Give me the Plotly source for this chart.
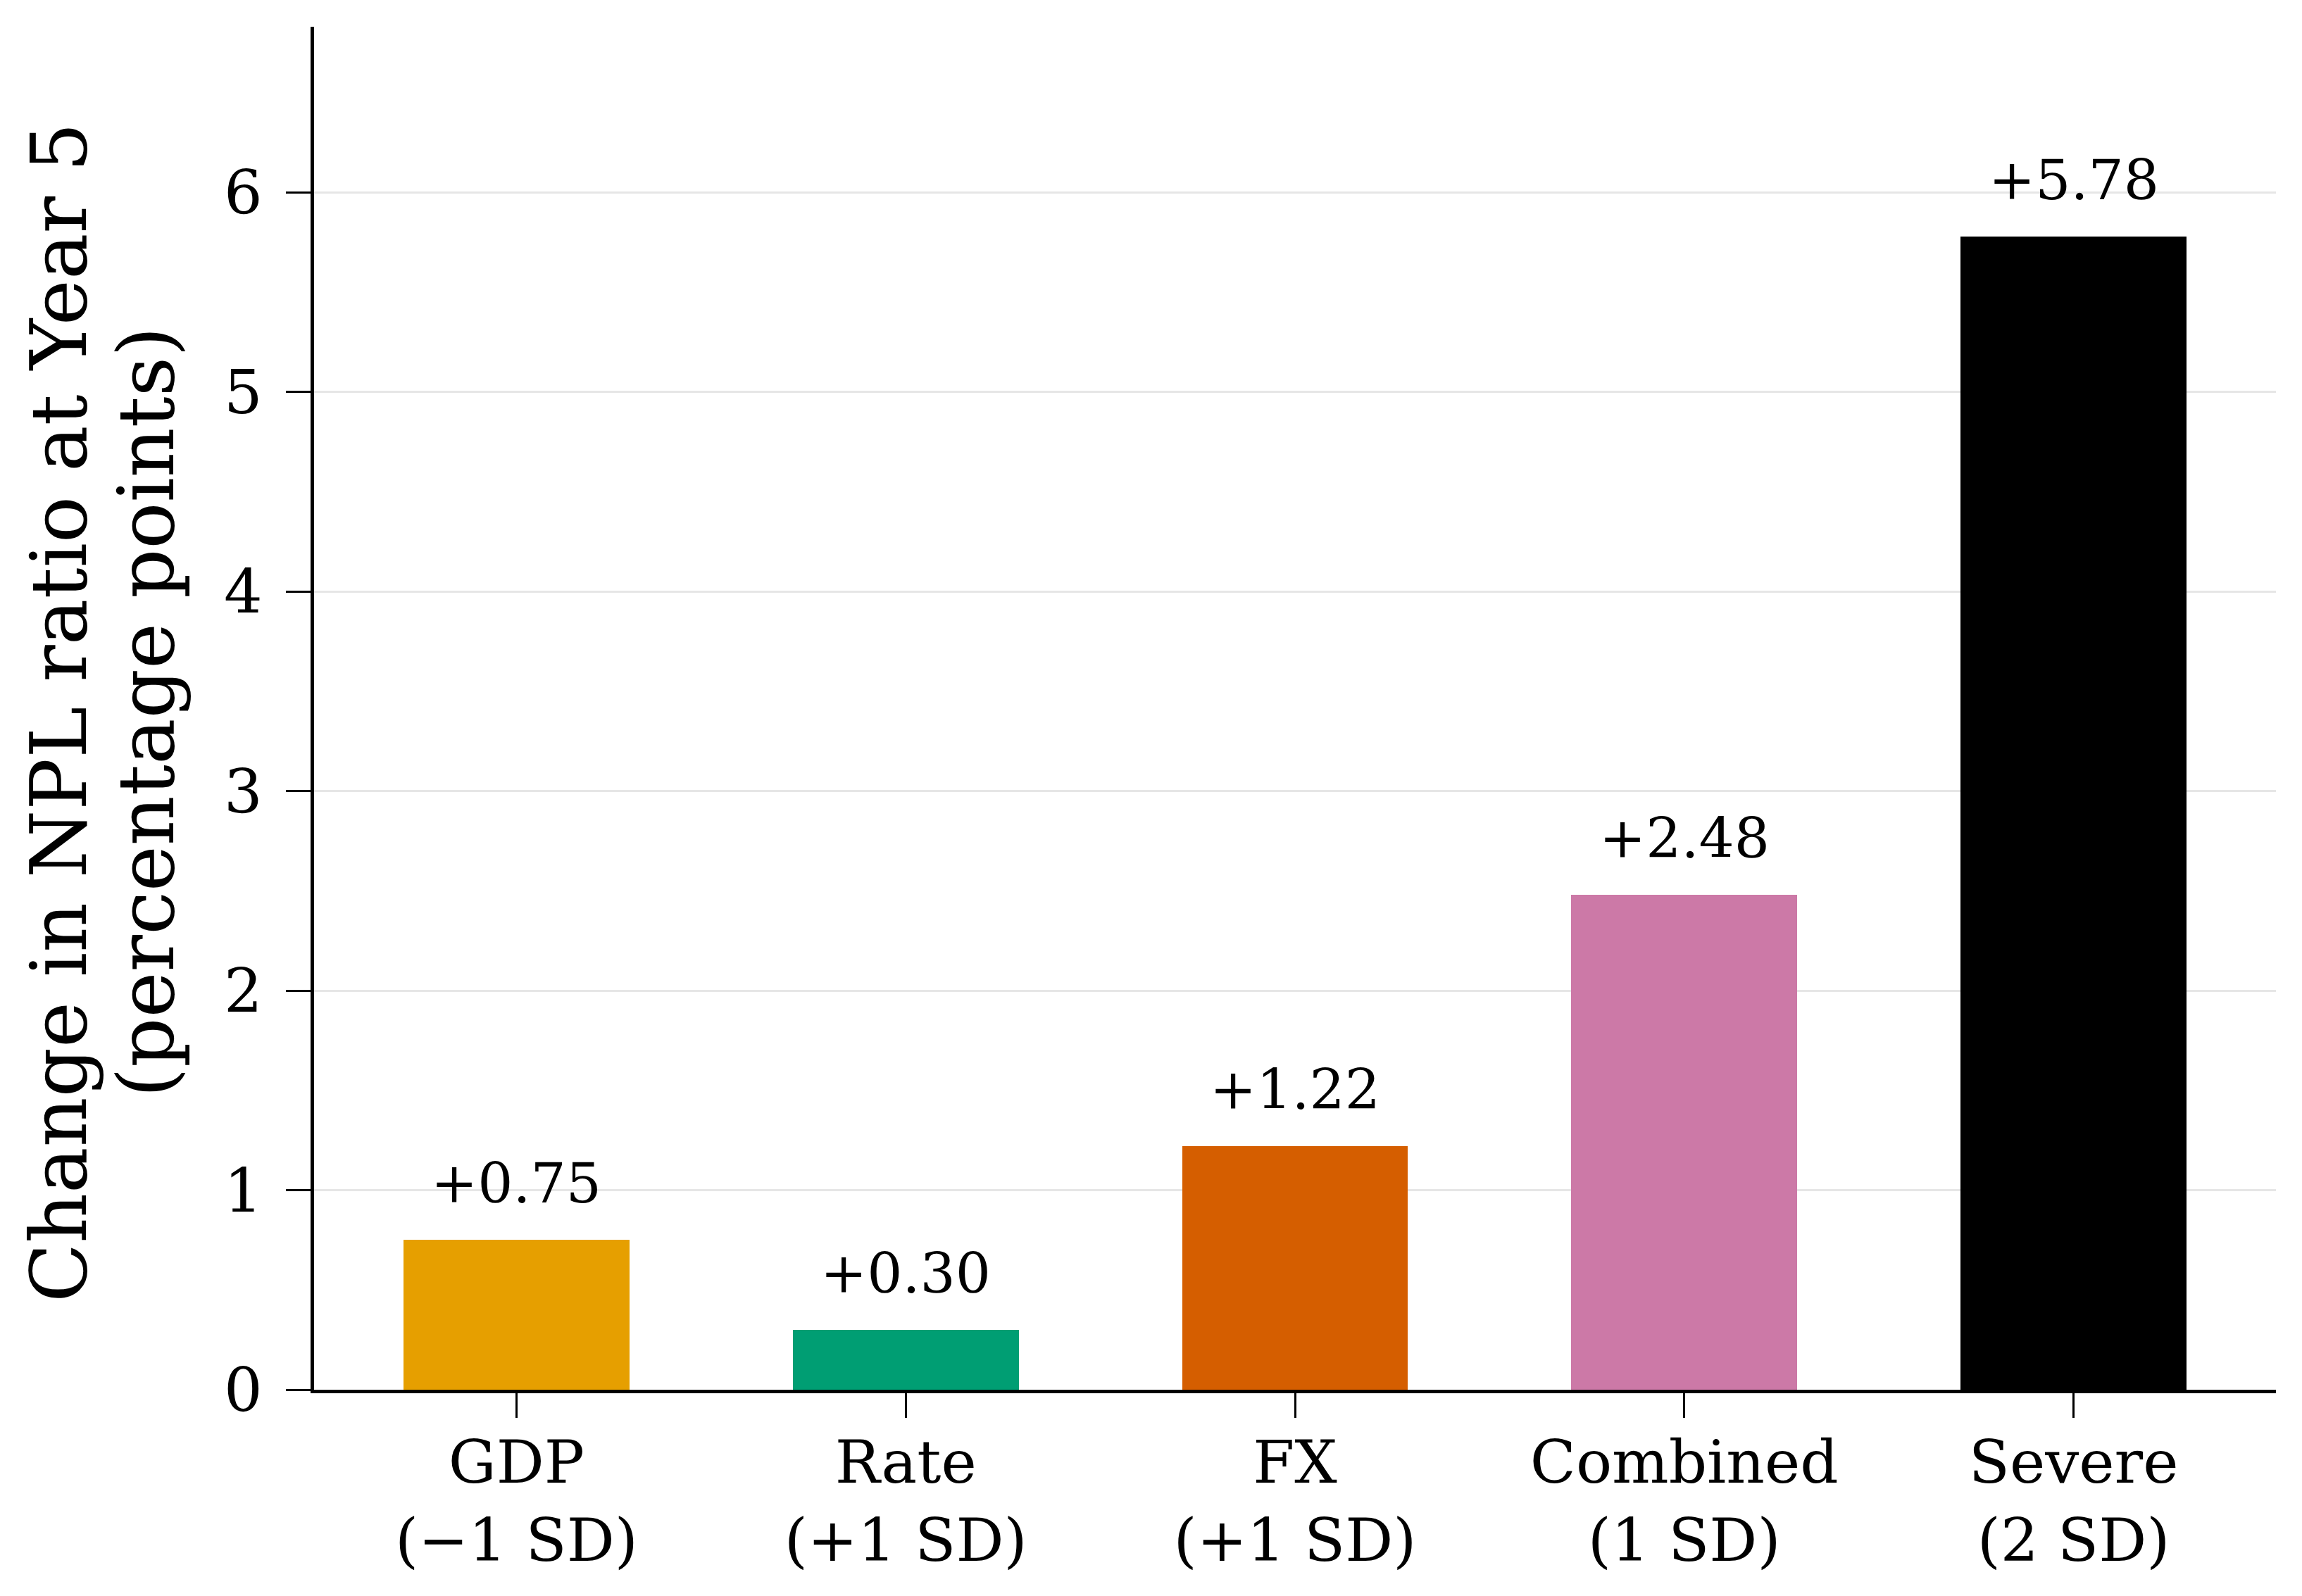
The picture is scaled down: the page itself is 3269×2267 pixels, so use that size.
import plotly.graph_objects as go

categories = ["GDP<br>(−1 SD)", "Rate<br>(+1 SD)", "FX<br>(+1 SD)", "Combined<br>(1 SD)", "Severe<br>(2 SD)"]
values = [0.75, 0.30, 1.22, 2.48, 5.78]
labels = ["+0.75", "+0.30", "+1.22", "+2.48", "+5.78"]
colors = ["#E69F00", "#009E73", "#D55E00", "#CC79A7", "#000000"]
y_ticks = [0, 1, 2, 3, 4, 5, 6]
y_title_lines = ["Change in NPL ratio at Year 5", "(percentage points)"]

FONT = "DejaVu Serif"
x_idx = list(range(len(categories)))

fig = go.Figure()
fig.add_trace(go.Bar(x=x_idx, y=values, width=0.58, marker=dict(color=colors, line=dict(width=0)),
                     showlegend=False))

for xi, v, t in zip(x_idx, values, labels):
    fig.add_annotation(x=xi, y=v, text=t, showarrow=False, yanchor="bottom", yshift=32,
                       font=dict(family=FONT, size=79, color="black"))

# y-axis title, two lines with matplotlib-like spacing
for xp, line in zip([-0.1299, -0.0854], y_title_lines):
    fig.add_annotation(xref="paper", yref="paper", x=xp, y=0.497, text=line, textangle=-90,
                       showarrow=False, xanchor="center", yanchor="middle",
                       font=dict(family=FONT, size=110, color="black"))

fig.update_layout(
    width=3269, height=2267,
    margin=dict(l=446, r=37, t=38, b=293),
    paper_bgcolor="white", plot_bgcolor="white",
    font=dict(family=FONT, color="black"),
    bargap=0,
)
fig.update_xaxes(
    range=[-0.52, 4.52], tickmode="array", tickvals=x_idx, ticktext=categories,
    showline=True, linecolor="black", linewidth=5, ticks="outside", ticklen=35, tickwidth=3,
    tickcolor="black", tickfont=dict(family=FONT, size=85, color="black"), ticklabelstandoff=-10,
    showgrid=False, zeroline=False,
)
fig.update_yaxes(
    range=[0, 6.83], tickmode="array", tickvals=y_ticks, ticktext=[str(t) for t in y_ticks],
    showline=True, linecolor="black", linewidth=5, ticks="outside", ticklen=35, tickwidth=3,
    tickcolor="black", tickfont=dict(family=FONT, size=86, color="black"), ticklabelstandoff=16,
    showgrid=True, gridcolor="#e6e6e6", gridwidth=3, zeroline=False,
)

fig.write_html("out.html")
